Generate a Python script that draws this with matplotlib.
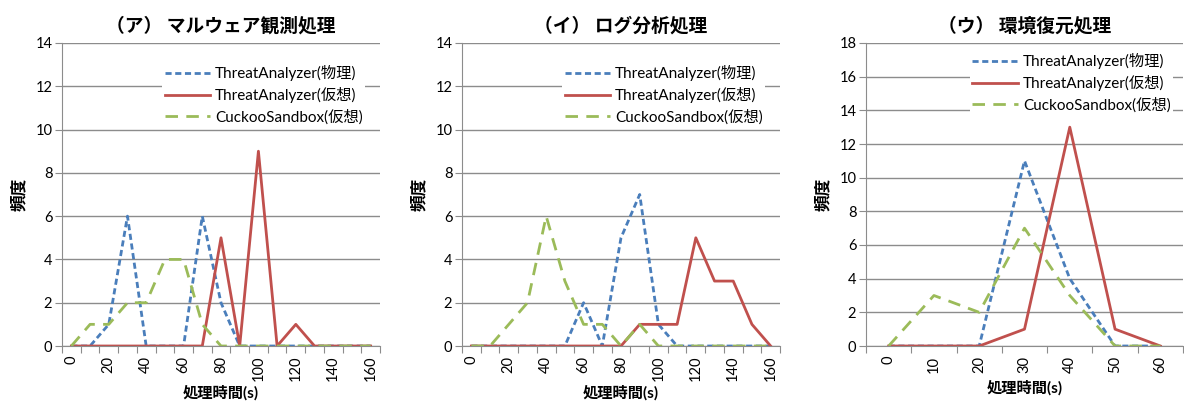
import matplotlib
matplotlib.use("Agg")
import matplotlib.pyplot as plt
import numpy as np

plt.rcParams['font.family'] = ['Lato', 'Noto Sans CJK JP', 'DejaVu Sans']

# 処理時間 (s) のカテゴリ
jikan_ab = [0, 10, 20, 30, 40, 50, 60, 70, 80, 90, 100, 110, 120, 130, 140, 150, 160]
jikan_c = [0, 10, 20, 30, 40, 50, 60]

# (ア) マルウェア観測処理
a_butsuri = [0, 0, 1, 6, 0, 0, 0, 6, 2, 0, 0, 0, 0, 0, 0, 0, 0]
a_kaso = [0, 0, 0, 0, 0, 0, 0, 0, 5, 0, 9, 0, 1, 0, 0, 0, 0]
a_cuckoo = [0, 1, 1, 2, 2, 4, 4, 1, 0, 0, 0, 0, 0, 0, 0, 0, 0]

# (イ) ログ分析処理
i_butsuri = [0, 0, 0, 0, 0, 0, 2, 0, 5, 7, 1, 0, 0, 0, 0, 0, 0]
i_kaso = [0, 0, 0, 0, 0, 0, 0, 0, 0, 1, 1, 1, 5, 3, 3, 1, 0]
i_cuckoo = [0, 0, 1, 2, 6, 3, 1, 1, 0, 1, 0, 0, 0, 0, 0, 0, 0]

# (ウ) 環境復元処理
u_butsuri = [0, 0, 0, 11, 4, 0, 0]
u_kaso = [0, 0, 0, 1, 13, 1, 0]
u_cuckoo = [0, 3, 2, 7, 3, 0, 0]

titles = ["（ア） マルウェア観測処理", "（イ） ログ分析処理", "（ウ） 環境復元処理"]
labels = ["ThreatAnalyzer(物理)", "ThreatAnalyzer(仮想)", "CuckooSandbox(仮想)"]
ymax = [14, 14, 18]

W, H = 1184, 401
fig = plt.figure(figsize=(W / 100, H / 100), dpi=100)

def px_axes(left, top, right, bottom):
    return fig.add_axes([left / W, 1 - bottom / H, (right - left) / W, (bottom - top) / H])

boxes = [(62, 43, 380, 346), (462, 43, 780, 346), (866, 43, 1183, 346)]
datas = [(jikan_ab, a_butsuri, a_kaso, a_cuckoo),
         (jikan_ab, i_butsuri, i_kaso, i_cuckoo),
         (jikan_c, u_butsuri, u_kaso, u_cuckoo)]
leg_anchor = [(0.953, 0.935), (0.953, 0.935), (0.968, 0.975)]
label_step = [2, 2, 1]
xlabel_y = [-0.155, -0.155, -0.139]

grid_col = '#8c8c8c'

for k in range(3):
    ax = px_axes(*boxes[k])
    cats, b, r, g = datas[k]
    x = np.arange(len(cats))
    ax.plot(x, b, color='#4a7ebb', lw=2, ls=(0, (2.2, 1.3)), label=labels[0])
    ax.plot(x, r, color='#c0504d', lw=2, ls='-', label=labels[1])
    ax.plot(x, g, color='#9bbb59', lw=2, ls=(0, (4.5, 3)), label=labels[2])

    ax.set_xlim(-0.5, len(cats) - 0.5)
    ax.set_ylim(0, ymax[k])
    ax.set_yticks(np.arange(0, ymax[k] + 1, 2))
    ax.yaxis.grid(True, color=grid_col, lw=1)
    ax.set_axisbelow(True)
    ax.tick_params(axis='y', length=5, color=grid_col, labelsize=10.5, pad=2)

    ax.set_xticks(np.arange(len(cats) + 1) - 0.5, minor=False)
    ax.set_xticklabels([])
    ax.set_xticks(x[::label_step[k]], minor=True)
    ax.set_xticklabels([str(c) for c in cats[::label_step[k]]], minor=True, rotation=90, fontsize=10.5)
    ax.tick_params(axis='x', which='major', length=5, color=grid_col)
    ax.tick_params(axis='x', which='minor', length=0, pad=7)

    for s in ['top', 'right']:
        ax.spines[s].set_visible(False)
    ax.spines['left'].set_color(grid_col)
    ax.spines['bottom'].set_color(grid_col)

    ax.set_title(titles[k], fontsize=13.5, fontweight='bold', pad=8)
    ax.set_ylabel("頻度", fontsize=12, fontweight='bold', labelpad=6)
    ax.set_xlabel("処理時間(s)", fontsize=11, fontweight='bold', va='center')
    ax.xaxis.set_label_coords(0.5, xlabel_y[k])

    leg = ax.legend(loc='upper right', bbox_to_anchor=leg_anchor[k], fontsize=11,
                    frameon=True, fancybox=False, edgecolor='none', facecolor='white',
                    framealpha=1, handlelength=3.0, handletextpad=0.3, labelspacing=0.4,
                    borderaxespad=0, borderpad=0.15)

fig.savefig("out.png", dpi=100)
